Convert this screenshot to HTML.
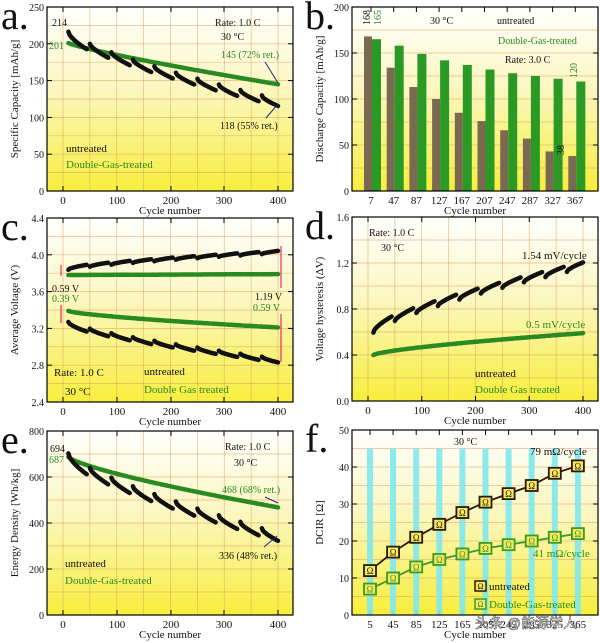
<!DOCTYPE html>
<html><head><meta charset="utf-8"><style>
body{margin:0;background:#fff;}
svg{display:block;font-family:"Liberation Serif",serif;}
</style></head><body>
<svg id="s" width="600" height="643" viewBox="0 0 600 643" xmlns="http://www.w3.org/2000/svg">
<defs><linearGradient id="g" x1="0" y1="0" x2="0" y2="1">
<stop offset="0" stop-color="#ffffff"/><stop offset="0.45" stop-color="#fbf7c0"/><stop offset="1" stop-color="#f7ee3c"/></linearGradient></defs>
</svg>
<script>
const S=document.getElementById('s');let h='';
function T(x,y,t,o={}){h+=`<text x="${x}" y="${y}" font-size="${o.s||11}" fill="${o.c||'#111'}" text-anchor="${o.a||'start'}" ${o.r?`transform="rotate(${o.r} ${x} ${y})"`:''}>${t}</text>`;}
function panel(P){
 const {x0,x1,y0,y1,ymin,ymax,yt,xt,xm}=P;
 const Y=v=>y1-(v-ymin)/(ymax-ymin)*(y1-y0);
 h+=`<rect x="${x0}" y="${y0}" width="${x1-x0}" height="${y1-y0}" fill="url(#g)"/>`;
 for(let i=0;i<yt.length*2-1;i++){const v=yt[0]+(yt[1]-yt[0])/2*i;if(v<=ymin||v>=ymax)continue;h+=`<line x1="${x0}" x2="${x1}" y1="${Y(v)}" y2="${Y(v)}" stroke="#e0a060" stroke-width="0.7" opacity="0.7"/>`;}
 (P.vg||[]).forEach(x=>h+=`<line x1="${x}" x2="${x}" y1="${y0}" y2="${y1}" stroke="#e0a060" stroke-width="0.7" opacity="0.7"/>`);
 yt.forEach(v=>{const y=Y(v);h+=`<line x1="${x0}" x2="${x0+5}" y1="${y}" y2="${y}" stroke="#000"/><line x1="${x1}" x2="${x1-5}" y1="${y}" y2="${y}" stroke="#000"/>`;T(x0-3,y+4,P.yf?P.yf(v):v,{a:'end',s:10});});
 xt.forEach(([x,l])=>{h+=`<line x1="${x}" x2="${x}" y1="${y1}" y2="${y1-5}" stroke="#000"/><line x1="${x}" x2="${x}" y1="${y0}" y2="${y0+5}" stroke="#000"/>`;T(x,y1+13,l,{a:'middle',s:11});});
 T((x0+x1)/2,y1+23,'Cycle number',{a:'middle',s:11});
 T(x0-29,(y0+y1)/2,P.yl,{a:'middle',s:11,r:-90});
 T(P.lx,y0+22,P.L,{s:40});
 return Y;
}
function frame(P){h+=`<rect x="${P.x0}" y="${P.y0}" width="${P.x1-P.x0}" height="${P.y1-P.y0}" fill="none" stroke="#000" stroke-width="1.2"/>`;}
const XL=n=>63+n*215/400, XR=n=>368+n*215/400;
const xtL=[[63,0],[117,100],[171,200],[224,300],[278,400]];
const xtR=[0,100,200,300,400].map(v=>[XR(v),v]);
const vgL=[0,50,100,150,200,250,300,350,400].map(XL), vgR=[0,50,100,150,200,250,300,350,400].map(XR);
function saw(Y,X,a,b,amp,col,pw){
 for(let k=0;k<10;k++){let pts=[];const c0=10+40*k,c1=c0+(k==9?30:34);
  for(let n=c0;n<=c1;n+=2){const f=(n-10)/390;const base=a+(b-a)*Math.pow(f,0.75);const fr=(n-c0)/(c1-c0);pts.push(`${X(n).toFixed(1)},${Y(base+amp*(0.5-Math.sqrt(fr))).toFixed(1)}`);}
  h+=`<polyline points="${pts.join(' ')}" fill="none" stroke="${col}" stroke-width="${pw||4.5}" stroke-linecap="round" stroke-linejoin="round"/>`;}
}
function smooth(Y,X,a,b,col,p){let pts=[];for(let n=10;n<=400;n+=3){const f=(n-10)/390;pts.push(`${X(n).toFixed(1)},${Y(a+(b-a)*Math.pow(f,p||0.8)).toFixed(1)}`);}
 h+=`<polyline points="${pts.join(' ')}" fill="none" stroke="${col}" stroke-width="4.5" stroke-linecap="round" stroke-dasharray="14 2"/>`;}
const K='#111',G='#2a8a22',GT='#2a8a22';
// a
let P={x0:47,x1:293,y0:7,y1:191,ymin:0,ymax:250,yt:[0,50,100,150,200,250],xt:xtL,vg:vgL,yl:'Specific Capacity [mAh/g]',L:'a.',lx:1};
let Y=panel(P);
smooth(Y,XL,201,145,G,0.85);saw(Y,XL,212,120,9,K);
T(52,26,'214',{s:10});T(49,49,'201',{s:10,c:GT});T(215,26,'Rate: 1.0 C',{s:10});T(221,40,'30 °C',{s:10});T(221,58,'145 (72% ret.)',{s:10,c:GT});T(220,129,'118 (55% ret.)',{s:10});
h+=`<line x1="265" y1="62" x2="278" y2="83" stroke="#1a2a8a"/><line x1="266" y1="118" x2="278" y2="104" stroke="#1a2a8a"/>`;
T(66,152,'untreated',{s:11});T(66,168,'Double-Gas-treated',{s:11,c:GT});
frame(P);
// b
P={x0:352,x1:598,y0:7,y1:191,ymin:0,ymax:200,yt:[0,50,100,150,200],xt:[7,47,87,127,167,207,247,287,327,367].map((v,i)=>[371+i*22.7,v]),vg:[],yl:'Discharge Capacity [mAh/g]',L:'b.',lx:305};
Y=panel(P);
const un=[168,134,113,100,85,76,66,57,43,38],gr=[165,158,149,142,137,132,128,125,122,119];
un.forEach((v,i)=>{const x=371+i*22.7;h+=`<rect x="${x-7}" y="${Y(v)}" width="8" height="${191-Y(v)}" fill="#7a6a52"/><rect x="${x+1}" y="${Y(gr[i])}" width="9" height="${191-Y(gr[i])}" fill="#2a9a24"/>`;});
T(370,25,'168',{s:10,r:-90});T(381,25,'165',{s:10,r:-90,c:GT});T(577,78,'120',{s:10,r:-90,c:GT});T(564,155,'38',{s:10,r:-90});
T(430,24,'30 °C',{s:10});T(497,24,'untreated',{s:10});T(498,44,'Double-Gas-treated',{s:10,c:GT});T(505,63,'Rate: 3.0 C',{s:10});
frame(P);
// c
P={x0:47,x1:293,y0:218,y1:402,ymin:2.4,ymax:4.4,yt:[2.4,2.8,3.2,3.6,4.0,4.4],yf:v=>v.toFixed(1),xt:xtL,vg:vgL,yl:'Average Voltage (V)',L:'c.',lx:1};
Y=panel(P);
saw(Y,XL,3.85,4.03,-0.025,K);smooth(Y,XL,3.78,3.79,G,1);smooth(Y,XL,3.39,3.21,G,0.7);saw(Y,XL,3.25,2.85,0.04,K);
T(52,292,'0.59 V',{s:10});T(52,302,'0.39 V',{s:10,c:GT});T(255,300,'1.19 V',{s:10});T(253,311,'0.59 V',{s:10,c:GT});
h+=`<g stroke="#e0306a" stroke-width="1.2"><line x1="61" y1="265" x2="61" y2="276"/><line x1="61" y1="305" x2="61" y2="323"/><line x1="281" y1="246" x2="281" y2="288"/><line x1="281" y1="314" x2="281" y2="362"/></g>`;
T(54,376,'Rate: 1.0 C',{s:11});T(65,395,'30 °C',{s:11});T(144,375,'untreated',{s:11});T(144,393,'Double Gas treated',{s:11,c:GT});
frame(P);
// d
P={x0:352,x1:598,y0:217,y1:401,ymin:0,ymax:1.6,yt:[0,0.4,0.8,1.2,1.6],yf:v=>v.toFixed(1),xt:xtR,vg:vgR,yl:'Voltage hysteresis (ΔV)',L:'d.',lx:305};
Y=panel(P);
saw(Y,XR,0.62,1.18,-0.05,K);smooth(Y,XR,0.40,0.59,G,0.7);
T(369,236,'Rate: 1.0 C',{s:10});T(381,251,'30 °C',{s:10});T(522,259,'1.54 mV/cycle',{s:11});T(526,328,'0.5 mV/cycle',{s:11,c:GT});
T(475,377,'untreated',{s:11});T(475,393,'Double Gas treated',{s:11,c:GT});
frame(P);
// e
P={x0:47,x1:293,y0:431,y1:615,ymin:0,ymax:800,yt:[0,200,400,600,800],xt:xtL,vg:vgL,yl:'Energy Density [Wh/kg]',L:'e.',lx:1};
Y=panel(P);
smooth(Y,XL,687,468,G,0.75);saw(Y,XL,685,340,35,K);
T(50,452,'694',{s:10});T(49,463,'687',{s:10,c:GT});T(225,450,'Rate: 1.0 C',{s:10});T(234,466,'30 °C',{s:10});T(222,493,'468 (68% ret.)',{s:10,c:GT});T(219,559,'336 (48% ret.)',{s:10});
h+=`<line x1="265" y1="497" x2="278" y2="503" stroke="#1a2a8a"/><line x1="264" y1="547" x2="277" y2="536" stroke="#1a2a8a"/>`;
T(65,567,'untreated',{s:11});T(65,584,'Double-Gas-treated',{s:11,c:GT});
frame(P);
// f
P={x0:352,x1:598,y0:430,y1:615,ymin:0,ymax:50,yt:[0,10,20,30,40,50],xt:[5,45,85,125,165,205,245,285,325,365].map((v,i)=>[370+i*23.1,v]),vg:[],yl:'DCIR [Ω]',L:'f.',lx:305};
Y=panel(P);
for(let i=0;i<10;i++){h+=`<rect x="${367+i*23.1}" y="${Y(45)}" width="6" height="${615-Y(45)}" fill="#7fe8f0" opacity="0.9"/>`;}
const du=[12,17,21,24.5,27.7,30.5,32.8,35,38.3,40.3],dg=[7,10,13,15,16.5,18,19,20,21,22];
[[du,'#2a1a0a'],[dg,'#3a9a2a']].forEach(([d,c])=>{h+=`<polyline points="${d.map((v,i)=>`${370+i*23.1},${Y(v)}`).join(' ')}" fill="none" stroke="${c}" stroke-width="1.8"/>`;
 d.forEach((v,i)=>{const x=370+i*23.1,y=Y(v);h+=`<rect x="${x-6}" y="${y-5.5}" width="12" height="11" fill="#f5e860" stroke="${c}" stroke-width="1.8"/>`;T(x,y+3.5,'Ω',{s:9,a:'middle',c:c});});});
T(454,445,'30 °C',{s:10});T(530,455,'79 mΩ/cycle',{s:11});T(533,557,'41 mΩ/cycle',{s:11,c:GT});
h+=`<rect x="475" y="581" width="11" height="10" fill="#f5e860" stroke="#2a1a0a" stroke-width="1.5"/>`;T(480.5,589,'Ω',{s:8,a:'middle'});T(489,590,'untreated',{s:11});
h+=`<rect x="475" y="599" width="11" height="10" fill="#f5e860" stroke="#3a9a2a" stroke-width="1.5"/>`;T(480.5,607,'Ω',{s:8,a:'middle',c:GT});T(489,608,'Double-Gas-treated',{s:11,c:GT});
frame(P);
h+=`<text x="475" y="628" font-size="14" fill="#fff" stroke="#444" stroke-width="0.5" font-family="'Liberation Sans','Noto Sans CJK SC',sans-serif">头条 @能源学人</text>`;
S.insertAdjacentHTML('beforeend',h);
</script>
</body></html>
